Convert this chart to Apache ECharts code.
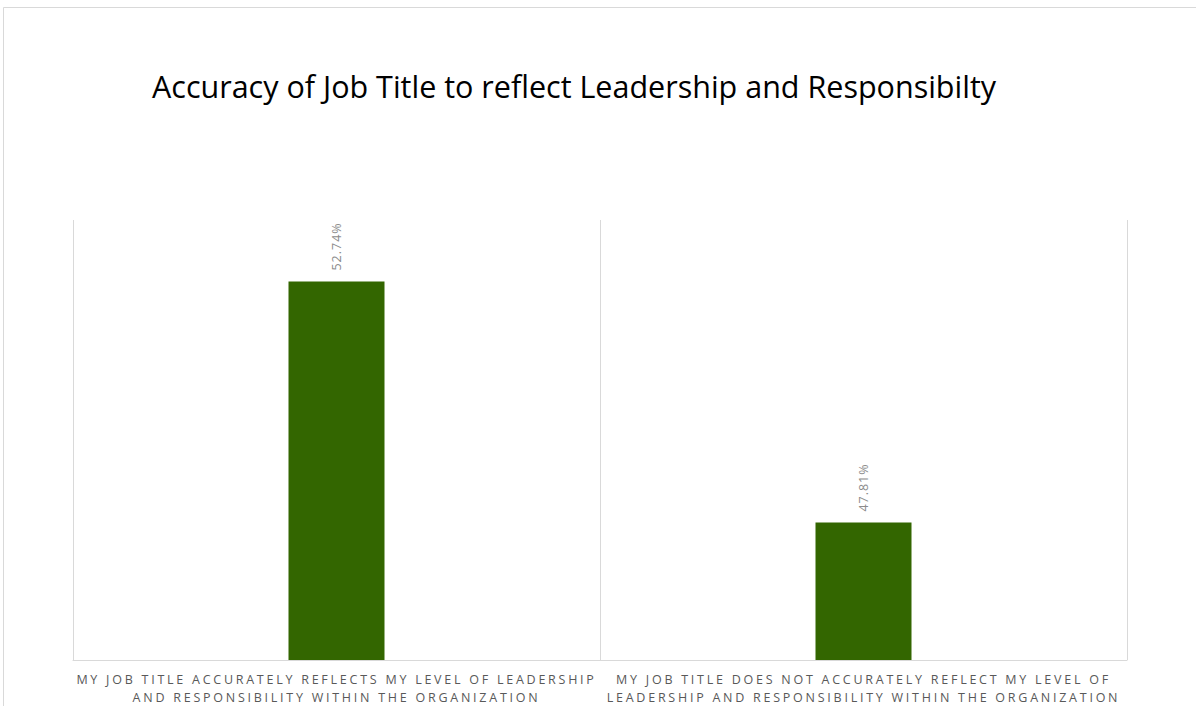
<!DOCTYPE html>
<html>
<head>
<meta charset="utf-8">
<script src="https://cdn.jsdelivr.net/npm/echarts@6/dist/echarts.min.js"></script>
<style>
  html, body { margin: 0; padding: 0; background: #fff; }
  #chart { width: 1196px; height: 706px; }
</style>
</head>
<body>
<div id="chart"></div>
<script>
const titleText = 'Accuracy of Job Title to reflect Leadership and Responsibilty';
const categories = [
  'MY JOB TITLE ACCURATELY REFLECTS MY LEVEL OF LEADERSHIP\nAND RESPONSIBILITY WITHIN THE ORGANIZATION',
  'MY JOB TITLE DOES NOT ACCURATELY REFLECT MY LEVEL OF\nLEADERSHIP AND RESPONSIBILITY WITHIN THE ORGANIZATION'
];
const values = [52.74, 47.81];

// tracking (letter spacing) for the spaced-out axis and value labels
const categoryTracking = 2.75;
const valueTracking = 1;

const chart = echarts.init(document.getElementById('chart'), null, { renderer: 'svg' });
chart.setOption({
  animation: false,
  backgroundColor: '#fff',
  graphic: [{
    type: 'rect',
    shape: { x: 3.5, y: 7.5, width: 1300, height: 800 },
    style: { fill: 'none', stroke: '#d9d9d9', lineWidth: 1 },
    silent: true
  }],
  title: {
    text: titleText,
    left: 147,
    top: 65,
    textStyle: { fontFamily: 'Open Sans', fontWeight: 'normal', fontSize: 30.5, color: '#000' }
  },
  grid: { left: 73, right: 69, top: 220, bottom: 41, containLabel: false },
  xAxis: {
    type: 'category',
    data: categories,
    axisLine: { lineStyle: { color: '#d9d9d9', width: 1 } },
    axisTick: { show: false },
    splitLine: { show: true, interval: 0, lineStyle: { color: '#d9d9d9', width: 1 } },
    axisLabel: {
      interval: 0,
      margin: 10,
      lineHeight: 18,
      fontFamily: 'Open Sans',
      fontSize: 12.5,
      color: '#595959'
    }
  },
  yAxis: {
    type: 'value',
    min: 45,
    max: 54,
    show: false,
    splitLine: { show: false }
  },
  series: [{
    type: 'bar',
    data: values,
    barWidth: 96,
    itemStyle: { color: '#336600' },
    label: {
      show: true,
      position: 'top',
      rotate: 90,
      align: 'left',
      verticalAlign: 'middle',
      distance: 11,
      fontFamily: 'Open Sans',
      fontSize: 12.5,
      color: '#8c8c8c',
      formatter: p => p.value.toFixed(2) + '%'
    }
  }]
});

// apply tracking to the rendered label text
const catLines = categories.flatMap(c => c.split('\n'));
const valLabels = values.map(v => v.toFixed(2) + '%');
document.querySelectorAll('#chart svg text').forEach(t => {
  const s = t.textContent;
  if (catLines.includes(s)) t.setAttribute('letter-spacing', categoryTracking);
  else if (valLabels.includes(s)) t.setAttribute('letter-spacing', valueTracking);
});
</script>
</body>
</html>
